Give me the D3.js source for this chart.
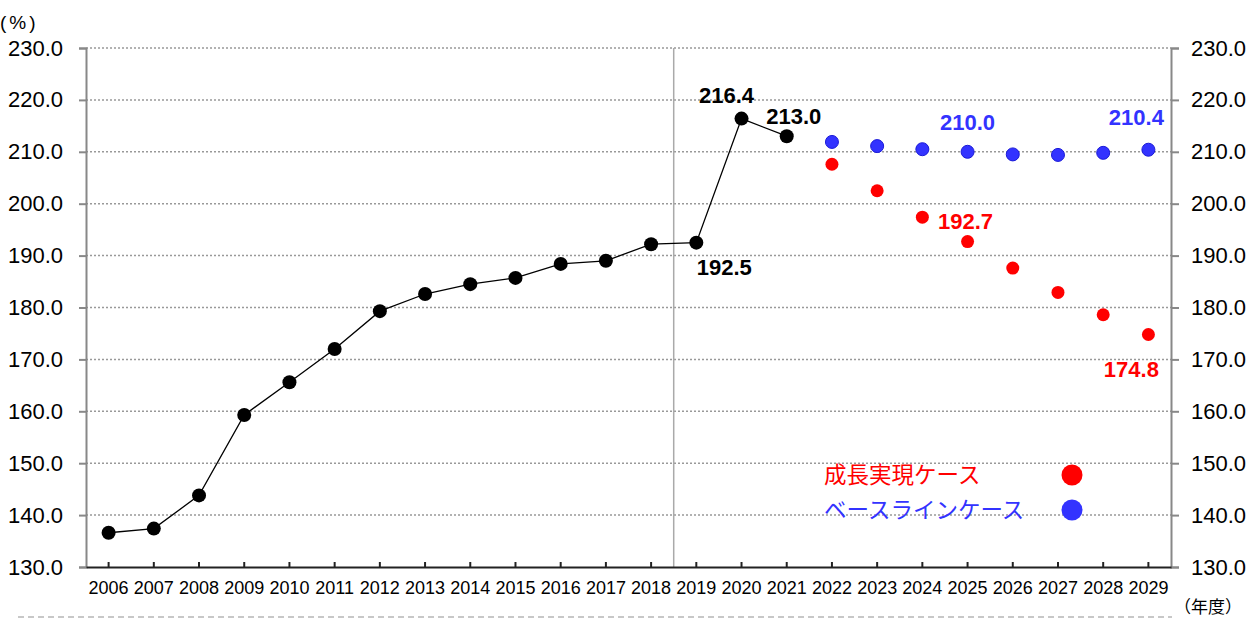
<!DOCTYPE html>
<html>
<head>
<meta charset="utf-8">
<script src="https://cdn.jsdelivr.net/npm/d3@7"></script>
<style>
    html, body { margin: 0; padding: 0; background: #fff; }
    svg { display: block; font-family: "Liberation Sans", Arial, sans-serif; }
</style>
</head>
<body>
<svg id="chart" width="1258" height="618"></svg>
<script>
const years = ['2006', '2007', '2008', '2009', '2010', '2011', '2012', '2013', '2014', '2015', '2016', '2017',
    '2018', '2019', '2020', '2021', '2022', '2023', '2024', '2025', '2026', '2027', '2028', '2029'];
const actualYears = years.slice(0, 16);
const actualValues = [136.6, 137.4, 143.8, 159.3, 165.6, 172.0, 179.3, 182.6, 184.5, 185.7, 188.4, 189.0,
    192.2, 192.5, 216.4, 213.0];
const caseYears = years.slice(16);
const growthValues = [207.6, 202.5, 197.4, 192.7, 187.6, 182.9, 178.6, 174.8];
const baselineValues = [211.9, 211.1, 210.5, 210.0, 209.5, 209.4, 209.8, 210.4];
const yTicks = [130, 140, 150, 160, 170, 180, 190, 200, 210, 220, 230];
const legendNames = ['成長実現ケース', 'ベースラインケース'];

const svg = d3.select('#chart');
const margin = { left: 86, right: 1171, top: 48, bottom: 567 };

const x = d3.scaleBand().domain(years).range([margin.left, margin.right]);
const y = d3.scaleLinear().domain([130, 230]).range([margin.bottom, margin.top]);
const cx = d => x(d) + x.bandwidth() / 2;

// Grid lines
svg.append('g')
    .selectAll('line')
    .data(yTicks.slice(1))
    .join('line')
    .attr('x1', margin.left)
    .attr('x2', margin.right)
    .attr('y1', d => y(d))
    .attr('y2', d => y(d))
    .attr('stroke', '#999')
    .attr('stroke-width', 1.5)
    .attr('stroke-dasharray', '2,2');

// Divider between actual and forecast
const divX = x('2019');
svg.append('line')
    .attr('x1', divX).attr('x2', divX)
    .attr('y1', margin.top).attr('y2', margin.bottom + 1)
    .attr('stroke', '#aaa')
    .attr('stroke-width', 1.5);

// Left axis
const leftAxis = svg.append('g')
    .attr('transform', `translate(${margin.left},0)`)
    .call(d3.axisLeft(y).tickValues(yTicks).tickFormat(d3.format('.1f')).tickSize(7).tickPadding(16));
leftAxis.select('.domain').attr('stroke', '#888').attr('stroke-width', 2);
leftAxis.selectAll('.tick line').attr('stroke', '#888').attr('stroke-width', 2);
leftAxis.selectAll('text').attr('font-size', 22).attr('fill', '#000')
    .attr('font-family', '"Liberation Sans", Arial, sans-serif');

// Right axis
const rightAxis = svg.append('g')
    .attr('transform', `translate(${margin.right},0)`)
    .call(d3.axisRight(y).tickValues(yTicks).tickFormat(d3.format('.1f')).tickSize(8).tickPadding(12));
rightAxis.select('.domain').attr('stroke', '#888').attr('stroke-width', 2);
rightAxis.selectAll('.tick line').attr('stroke', '#888').attr('stroke-width', 2);
rightAxis.selectAll('text').attr('font-size', 22).attr('fill', '#000')
    .attr('font-family', '"Liberation Sans", Arial, sans-serif');

// Bottom axis with inward ticks
const bottomAxis = svg.append('g')
    .attr('transform', `translate(0,${margin.bottom})`)
    .call(d3.axisBottom(x).tickSizeInner(-5).tickSizeOuter(0).tickPadding(14));
bottomAxis.select('.domain').attr('stroke', '#222').attr('stroke-width', 2);
bottomAxis.selectAll('.tick line').attr('stroke', '#222').attr('stroke-width', 2);
bottomAxis.selectAll('text').attr('font-size', 18).attr('fill', '#000')
    .attr('font-family', '"Liberation Sans", Arial, sans-serif');

// Unit labels
svg.append('text').attr('x', 0).attr('y', 29)
    .attr('font-size', 19).attr('font-family', '"Liberation Sans", Arial, sans-serif')
    .attr('letter-spacing', 3).text('(%)');
svg.append('text').attr('x', 1174).attr('y', 613)
    .attr('font-size', 17).attr('font-family', '"Noto Sans CJK JP", sans-serif').text('（年度）');

// Bottom dashed rule
svg.append('line')
    .attr('x1', 18).attr('x2', 1172)
    .attr('y1', 617).attr('y2', 617)
    .attr('stroke', '#c8c8c8')
    .attr('stroke-width', 2)
    .attr('stroke-dasharray', '6,4');

// Actual series
svg.append('path')
    .datum(actualValues)
    .attr('fill', 'none')
    .attr('stroke', '#000')
    .attr('stroke-width', 1.3)
    .attr('d', d3.line().x((d, i) => cx(actualYears[i])).y(d => y(d)));

svg.append('g')
    .selectAll('circle')
    .data(actualValues)
    .join('circle')
    .attr('cx', (d, i) => cx(actualYears[i]))
    .attr('cy', d => y(d))
    .attr('r', 7)
    .attr('fill', '#000');

// Forecast cases
svg.append('g')
    .selectAll('circle')
    .data(baselineValues)
    .join('circle')
    .attr('cx', (d, i) => cx(caseYears[i]))
    .attr('cy', d => y(d))
    .attr('r', 6.5)
    .attr('fill', '#3333ff')
    .attr('stroke', '#1a1ad8')
    .attr('stroke-width', 1);

svg.append('g')
    .selectAll('circle')
    .data(growthValues)
    .join('circle')
    .attr('cx', (d, i) => cx(caseYears[i]))
    .attr('cy', d => y(d))
    .attr('r', 6.5)
    .attr('fill', '#ff0000');

// Data labels
const labels = [
    { year: '2020', value: 216.4, dx: -15, dy: -16, color: '#000' },
    { year: '2021', value: 213.0, dx: 7, dy: -12, color: '#000' },
    { year: '2019', value: 192.5, dx: 28, dy: 32, color: '#000' },
    { year: '2025', value: 210.0, dx: 0, dy: -22, color: '#3333ff' },
    { year: '2029', value: 210.4, dx: -12, dy: -25, color: '#3333ff' },
    { year: '2025', value: 192.7, dx: -2, dy: -13, color: '#ff0000' },
    { year: '2029', value: 174.8, dx: -17, dy: 43, color: '#ff0000' }
];
svg.append('g')
    .selectAll('text')
    .data(labels)
    .join('text')
    .attr('x', d => cx(d.year) + d.dx)
    .attr('y', d => y(d.value) + d.dy)
    .attr('text-anchor', 'middle')
    .attr('font-size', 22)
    .attr('font-weight', 'bold')
    .attr('fill', d => d.color)
    .text(d => d.value.toFixed(1));

// Legend
const legendColors = ['#ff0000', '#3333ff'];
const legend = svg.append('g');
legendNames.forEach((name, i) => {
    const ly = 475 + i * 35;
    legend.append('text')
        .attr('x', 824)
        .attr('y', ly + 8)
        .attr('font-size', 22.5)
        .attr('font-family', '"Noto Sans CJK JP", sans-serif')
        .attr('fill', legendColors[i])
        .text(name);
    legend.append('circle')
        .attr('cx', 1072)
        .attr('cy', ly)
        .attr('r', 10.5)
        .attr('fill', legendColors[i]);
});
</script>
</body>
</html>
